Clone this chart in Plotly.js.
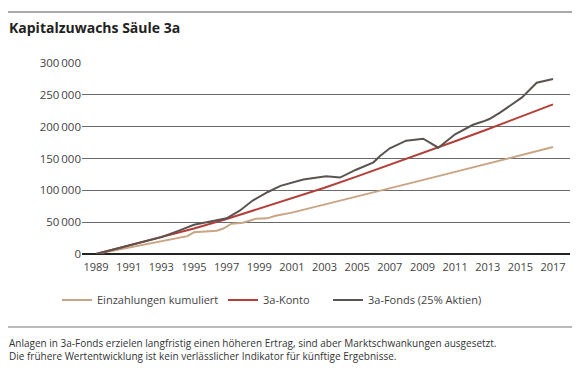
<!DOCTYPE html>
<html>
<head>
<meta charset="utf-8">
<script src="https://cdn.plot.ly/plotly-3.0.1.min.js"></script>
<style>html,body{margin:0;padding:0;background:#fff;}#chart{width:580px;height:371px;}</style>
</head>
<body>
<div id="chart"></div>
<script>
// Einzahlungen kumuliert
const yearsDeposits = [1989, 1990, 1991, 1992, 1993, 1994, 1994.6, 1995, 1996.4, 1996.8, 1997.3, 1998, 1998.8, 1999.5, 2000, 2001, 2003, 2005, 2007, 2009, 2011, 2013, 2015, 2017];
const deposits = [0, 5000, 10000, 15000, 20000, 25000, 28000, 34000, 36500, 40000, 47500, 49000, 55500, 56000, 60000, 65000, 77500, 90000, 103000, 116000, 129000, 142000, 155000, 168000];

// 3a-Konto
const yearsKonto = [1989, 1991, 1993, 1995, 1997, 1999, 2001, 2003, 2005, 2007, 2009, 2010, 2011, 2013, 2015, 2017];
const konto = [0, 13000, 26000, 40000, 55000, 71000, 87000, 104000, 122000, 140000, 158000, 167000, 177000, 196000, 216000, 235000];

// 3a-Fonds (25% Aktien)
const yearsFonds = [1989, 1990, 1991, 1992, 1993, 1994, 1995, 1996, 1997, 1997.8, 1998.6, 1999.5, 2000.3, 2001.7, 2003.1, 2003.95, 2004.9, 2006.0, 2006.4, 2007.0, 2008.0, 2009.05, 2009.97, 2011.0, 2012.1, 2012.7, 2013.1, 2013.75, 2014.5, 2015.1, 2016.0, 2017.0];
const fonds = [0, 6500, 13000, 19500, 26500, 36000, 46000, 51000, 56000, 68000, 84000, 97000, 107000, 117000, 122000, 120000, 132000, 144000, 154000, 166000, 178000, 181000, 167000, 188000, 203000, 208000, 212000, 222000, 236000, 246000, 269000, 275000];

const xTickVals = [1989, 1991, 1993, 1995, 1997, 1999, 2001, 2003, 2005, 2007, 2009, 2011, 2013, 2015, 2017];
const yTickVals = [0, 50000, 100000, 150000, 200000, 250000, 300000];
const yTickText = ['0', '50\u2009000', '100\u2009000', '150\u2009000', '200\u2009000', '250\u2009000', '300\u2009000'];

const seriesNames = ['Einzahlungen kumuliert', '3a-Konto', '3a-Fonds (25% Aktien)'];
const colors = ['#c9a584', '#b23f38', '#5b5350'];

const FONT = '"Open Sans", "Noto Sans", sans-serif';

const traces = [
  {x: yearsDeposits, y: deposits, name: seriesNames[0], legend: 'legend', type: 'scatter', mode: 'lines', line: {color: colors[0], width: 2}},
  {x: yearsKonto, y: konto, name: seriesNames[1], legend: 'legend2', type: 'scatter', mode: 'lines', line: {color: colors[1], width: 2}},
  {x: yearsFonds, y: fonds, name: seriesNames[2], legend: 'legend3', type: 'scatter', mode: 'lines', line: {color: colors[2], width: 2}}
];

// geometry helpers (paper coords)
const L = 82, R = 10, T = 63, B = 117, W = 580, H = 371;
const pw = W - L - R, ph = H - T - B;
const px = v => (v - L) / pw;
const py = v => (H - B - v) / ph;

const legendBase = {orientation: 'h', y: py(300), xanchor: 'left', yanchor: 'middle',
  font: {size: 11, color: '#444444'}, itemwidth: 30, bgcolor: 'rgba(0,0,0,0)'};

const layout = {
  width: W, height: H,
  margin: {l: L, r: R, t: T, b: B},
  paper_bgcolor: '#ffffff', plot_bgcolor: '#ffffff',
  font: {family: FONT, color: '#333333', size: 11},
  showlegend: true,
  legend: Object.assign({}, legendBase, {x: px(57)}),
  legend2: Object.assign({}, legendBase, {x: px(223)}),
  legend3: Object.assign({}, legendBase, {x: px(328)}),
  xaxis: {range: [1988.14, 2018.04], tickvals: xTickVals, ticktext: xTickVals.map(String),
          showgrid: false, zeroline: false, showline: false, ticks: '', ticklabelstandoff: 5,
          tickfont: {size: 11, color: '#444444'}, fixedrange: true},
  yaxis: {range: [0, 300000], tickvals: yTickVals, ticktext: yTickText,
          showgrid: true, gridcolor: '#6a6a6a', gridwidth: 1, zeroline: true, zerolinecolor: '#222222', zerolinewidth: 1.5,
          showline: false, ticks: '', ticklen: 0, tickfont: {size: 11.5, color: '#444444'}, fixedrange: true},
  shapes: [
    {type: 'line', xref: 'paper', yref: 'paper', x0: px(8), x1: px(572), y0: py(12), y1: py(12), line: {color: '#555555', width: 1.2}},
    {type: 'line', xref: 'paper', yref: 'paper', x0: px(8), x1: px(572), y0: py(327), y1: py(327), line: {color: '#777777', width: 1.2}}
  ],
  annotations: [
    {xref: 'paper', yref: 'paper', x: px(7), y: py(28), xanchor: 'left', yanchor: 'middle', showarrow: false,
     text: '<b>Kapitalzuwachs Säule 3a</b>', font: {family: FONT, size: 14, color: '#222222'}},
    {xref: 'paper', yref: 'paper', x: px(7), y: py(349.5), xanchor: 'left', yanchor: 'middle', showarrow: false, align: 'left',
     text: 'Anlagen in 3a-Fonds erzielen langfristig einen höheren Ertrag, sind aber Marktschwankungen ausgesetzt.<br>Die frühere Wertentwicklung ist kein verlässlicher Indikator für künftige Ergebnisse.',
     font: {family: FONT, size: 10, color: '#333333'}}
  ]
};

Plotly.newPlot('chart', traces, layout, {staticPlot: true, displayModeBar: false});
</script>
</body>
</html>
